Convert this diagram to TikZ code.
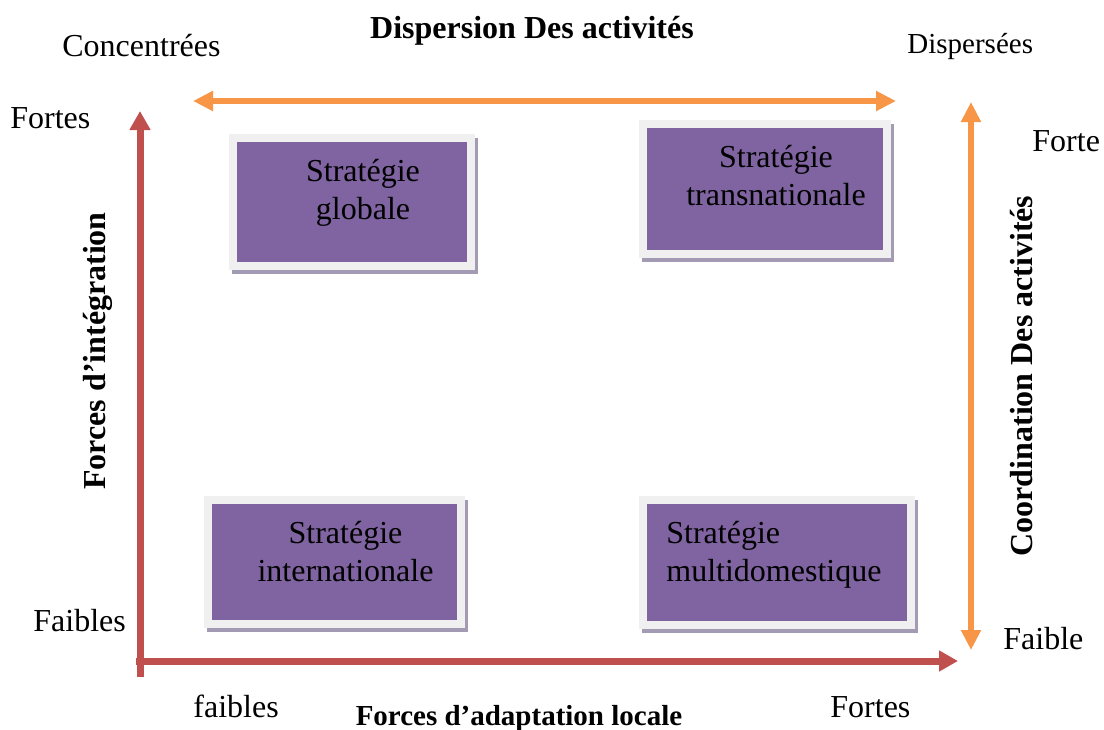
\documentclass[tikz,border=0pt]{standalone}
\usepackage{fontspec}
\setmainfont{Liberation Serif}
\usepackage{tikz}
\usetikzlibrary{positioning}
\usetikzlibrary{arrows.meta}
\definecolor{stratpurple}{HTML}{8064A2}
\definecolor{framegray}{HTML}{F0F0F0}
\definecolor{shadowgray}{HTML}{A39BB3}
\definecolor{axisred}{HTML}{C0504D}
\definecolor{axisorange}{HTML}{F79646}
\tikzstyle{strat} = [rectangle, draw=framegray, line width=3.75pt, fill=stratpurple, inner sep=0pt,
    preaction={draw=shadowgray, fill=shadowgray, transform canvas={shift={(1.5pt,-2pt)}}}]
\tikzstyle{stxt} = [font=\fontsize{16}{19}\selectfont, align=center, anchor=base, inner sep=0pt]
\tikzstyle{axtext} = [font=\fontsize{16}{19}\selectfont, anchor=base west, inner sep=0pt]
\tikzstyle{axtitle} = [font=\fontsize{16}{19}\selectfont\bfseries, anchor=base, inner sep=0pt]
\tikzstyle{redarrow} = [line width=3.5pt, draw=axisred, -{Triangle[length=9.5pt, width=10pt]}]
\tikzstyle{orangearrow} = [line width=2.75pt, draw=axisorange,
    {Triangle[length=10pt, width=9.5pt]}-{Triangle[length=10pt, width=9.5pt]}]

\begin{document}
\begin{tikzpicture}[x=0.5pt, y=-0.5pt]
\useasboundingbox (0,0) rectangle (1104,729);

\node (glob) [strat, minimum width=119pt, minimum height=64pt] at (352,202) {};
\node (trans) [strat, minimum width=122pt, minimum height=65pt] at (765,189) {};
\node (inter) [strat, minimum width=126.5pt, minimum height=62pt] at (334.5,562) {};
\node (multi) [strat, minimum width=134pt, minimum height=62.5pt] at (777,562.5) {};

\node (globtxt) [stxt] at (363,219) {Stratégie\\globale};
\node (transtxt) [stxt] at (776,205) {Stratégie\\transnationale};
\node (intertxt) [stxt] at (345.5,581) {Stratégie\\internationale};
\node (multitxt) [stxt, align=left, anchor=base west] at (666,581) {Stratégie\\multidomestique};

\coordinate (yBot) at (140,677);
\coordinate (yTop) at (140,111);
\coordinate (xLeft) at (136,661);
\coordinate (xRight) at (958,661);
\coordinate (dLeft) at (193,101);
\coordinate (dRight) at (896,101);
\coordinate (cTop) at (971,102);
\coordinate (cBot) at (971,650);

\draw [redarrow] (yBot) -- (yTop);
\draw [redarrow] (xLeft) -- (xRight);
\draw [orangearrow] (dLeft) -- (dRight);
\draw [orangearrow] (cTop) -- (cBot);

\node (disp) [axtitle] at (532,38) {Dispersion Des activités};
\node (conc) [axtext] at (62,56) {Concentrées};
\node (dispe) [axtext, font=\fontsize{14.5}{17}\selectfont] at (907,53) {Dispersées};
\node (fortesY) [axtext] at (10,128) {Fortes};
\node (forteC) [axtext] at (1032,151) {Forte};
\node (faiblesY) [axtext] at (33,631) {Faibles};
\node (faibleC) [axtext] at (1003,649) {Faible};
\node (faiblesX) [axtext] at (193,717) {faibles};
\node (fortesX) [axtext] at (830,717) {Fortes};
\node (adapt) [axtitle, font=\fontsize{14.5}{17}\selectfont\bfseries] at (519,725) {Forces d’adaptation locale};
\node (integ) [axtitle, rotate=90] at (105,351) {Forces d’intégration};
\node (coord) [axtitle, rotate=90] at (1032,376) {Coordination Des activités};
\end{tikzpicture}
\end{document}
